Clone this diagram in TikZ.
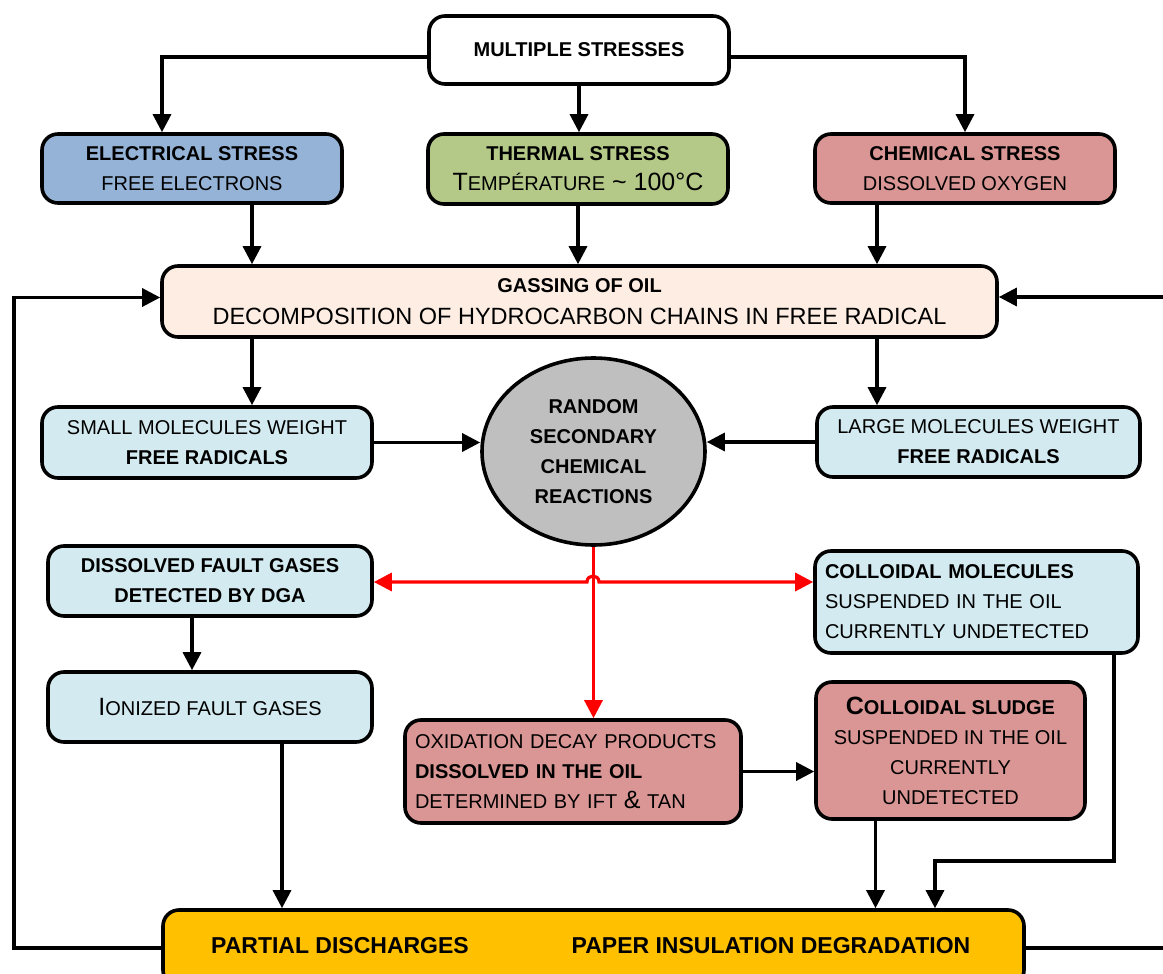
\documentclass[tikz,border=0pt]{standalone}
\usepackage{fontspec}
\setmainfont{Liberation Sans}
\usetikzlibrary{arrows.meta,shapes.geometric}
\definecolor{elblue}{HTML}{95B3D7}
\definecolor{thgreen}{HTML}{B4C887}
\definecolor{chred}{HTML}{D99694}
\definecolor{gasbg}{HTML}{FDEDE2}
\definecolor{lblue}{HTML}{D2EAF0}
\definecolor{rgray}{HTML}{BFBFBF}
\definecolor{gold}{HTML}{FFC000}
\newcommand\fs[1]{\fontsize{#1}{30}\selectfont}
\begin{document}
\begin{tikzpicture}[x=1pt,y=-1pt,
 box/.style={draw, line width=3.6pt, rounded corners=16pt, inner sep=0pt, align=center, font={\fs{20}}},
 arr/.style={line width=3.2pt, -{Triangle[length=18pt,width=18pt]}},
 rarr/.style={line width=3.2pt, draw=red, -{Triangle[length=18pt,width=18pt]}},
 plain/.style={line width=3.2pt},
]
\useasboundingbox (0,0) rectangle (1163,974);
\clip (0,0) rectangle (1163,974);

% nodes
\node[box, fill=white, minimum width=300pt, minimum height=68pt] (ms) at (579,50) {\textbf{MULTIPLE STRESSES}};
\node[box, fill=elblue, minimum width=300pt, minimum height=69pt] (el) at (192,168.5) {\textbf{ELECTRICAL STRESS}\\FREE ELECTRONS};
\node[box, fill=thgreen, minimum width=300pt, minimum height=70pt] (th) at (578,169) {\textbf{THERMAL STRESS}\\{\fs{25}T\fs{20}EMPÉRATURE\fs{25} \textasciitilde{} 100°C}};
\node[box, fill=chred, minimum width=300pt, minimum height=69pt] (ch) at (965,168.5) {\textbf{CHEMICAL STRESS}\\DISSOLVED OXYGEN};
\node[box, fill=gasbg, minimum width=835pt, minimum height=71pt] (gas) at (579.5,301.5) {\textbf{GASSING OF OIL}\\[2pt]{\fs{23.5}DECOMPOSITION OF HYDROCARBON CHAINS IN FREE RADICAL}};
\node[box, fill=lblue, minimum width=330pt, minimum height=71pt] (sm) at (207,442.5) {SMALL MOLECULES WEIGHT\\\textbf{FREE RADICALS}};
\node[draw, ellipse, line width=3.6pt, fill=rgray, minimum width=223pt, minimum height=187pt, inner sep=0pt, align=center, font={\fs{20}\bfseries}] (rc) at (593.5,451.5) {RANDOM\\SECONDARY\\CHEMICAL\\REACTIONS};
\node[box, fill=lblue, minimum width=323pt, minimum height=70pt] (lg) at (978.5,442) {LARGE MOLECULES WEIGHT\\\textbf{FREE RADICALS}};
\node[box, fill=lblue, minimum width=324pt, minimum height=70pt] (dfg) at (210,581) {\textbf{DISSOLVED FAULT GASES}\\\textbf{DETECTED BY DGA}};
\node[box, fill=lblue, minimum width=324pt, minimum height=70pt] (ion) at (210,707) {{\fs{25}I\fs{20}ONIZED FAULT GASES}};
\node[box, fill=lblue, text width=303pt, align=left, inner xsep=10pt, minimum height=102pt] (cm) at (976.5,602) {\textbf{COLLOIDAL MOLECULES}\\SUSPENDED IN THE OIL\\CURRENTLY UNDETECTED};
\node[box, fill=chred, text width=316pt, align=left, inner xsep=10pt, minimum height=103pt] (ox) at (573,771.5) {OXIDATION DECAY PRODUCTS\\\textbf{DISSOLVED IN THE OIL}\\DETERMINED BY IFT {\fs{25}\&} TAN};
\node[box, fill=chred, minimum width=269pt, minimum height=137pt] (sl) at (950.5,750.5) {\textbf{\fs{25}C\fs{20}OLLOIDAL SLUDGE}\\SUSPENDED IN THE OIL\\CURRENTLY\\UNDETECTED};
\node[box, fill=gold, minimum width=861pt, minimum height=76pt] (bot) at (593.5,948) {};
\node[font={\fs{23}\bfseries}] (pd) at (340,946) {PARTIAL DISCHARGES};
\node[font={\fs{23}\bfseries}] (pid) at (771,946) {PAPER INSULATION DEGRADATION};

% coordinates
\coordinate (lfb) at (14,948);
\coordinate (rfb) at (1175,948);
\coordinate (rft) at (1175,297);
\coordinate (cmj) at (1114,861);
\coordinate (cmk) at (935,861);
\coordinate (hopl) at (587,582);
\coordinate (hopr) at (599,582);

% connectors from multiple stresses
\draw[arr] ([yshift=-7pt]ms.west) -| ([xshift=-30pt]el.north);
\draw[arr] (ms.south) -- (ms.south |- th.north);
\draw[arr] ([yshift=-7pt]ms.east) -| (ch.north);
% stresses to gassing
\draw[arr] ([xshift=60pt]el.south) -- ([xshift=60pt]el.south |- gas.north);
\draw[arr] (th.south) -- (th.south |- gas.north);
\draw[arr] ([xshift=-88pt]ch.south) -- ([xshift=-88pt]ch.south |- gas.north);
% gassing to molecules
\draw[arr] ([xshift=45pt]sm.north |- gas.south) -- ([xshift=45pt]sm.north);
\draw[arr] ([xshift=-101.5pt]lg.north |- gas.south) -- ([xshift=-101.5pt]lg.north);
% molecules to reactions
\draw[arr] (sm.east) -- (sm.east -| rc.west);
\draw[arr] (lg.west) -- (lg.west -| rc.east);
% red
\draw[rarr] (rc.south) -- (rc.south |- ox.north);
\draw[line width=3.2pt, draw=red, {Triangle[length=18pt,width=18pt]}-{Triangle[length=18pt,width=18pt]}] (dfg.east |- hopl) -- (hopl) .. controls (587,574) and (599,574) .. (hopr) -- (cm.west |- hopr);
% left column
\draw[arr] ([xshift=-18pt]dfg.south) -- ([xshift=-18pt]ion.north);
\draw[arr] ([xshift=72pt]ion.south) -- ([xshift=72pt]ion.south |- bot.north);
% right side
\draw[arr] (ox.east) -- (ox.east -| sl.west);
\draw[arr] ([xshift=-75pt]sl.south) -- ([xshift=-75pt]sl.south |- bot.north);
\draw[arr] (cmj |- cm.south) -- (cmj) -- (cmk) -- (cmk |- bot.north);
% feedback loops
\draw[arr] (bot.west) -- (bot.west -| lfb) |- ([yshift=4pt]gas.west);
\draw[plain] (bot.east) -- (bot.east -| rfb);
\draw[arr] (rft) -- (rft -| gas.east);
\end{tikzpicture}
\end{document}
